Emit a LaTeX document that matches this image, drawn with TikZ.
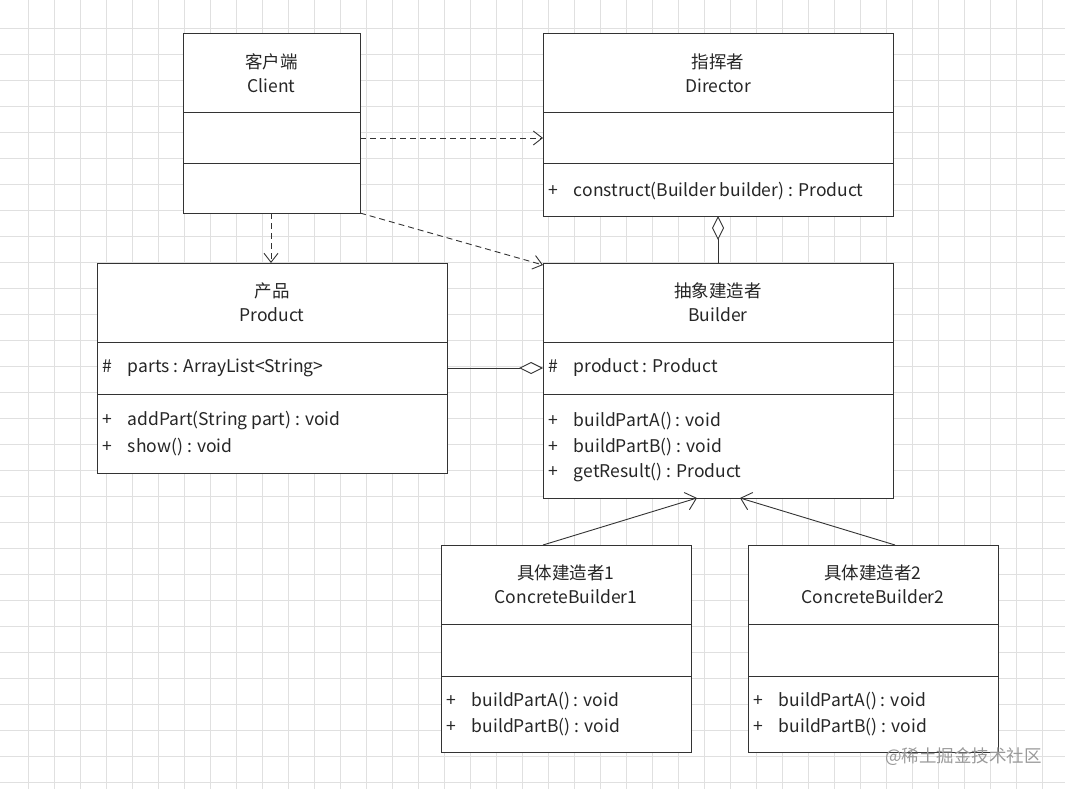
\documentclass[tikz,border=0pt]{standalone}
\usepackage{fontspec}
\setmainfont{Noto Sans CJK SC}
\usetikzlibrary{arrows.meta}
\begin{document}
\begin{tikzpicture}[x=1pt,y=-1pt,
  t/.style={font=\fontsize{17.5}{21}\selectfont,text=black!85,inner sep=0},
  dep/.style={draw=black!80,line width=0.9pt,dash pattern=on 6pt off 4pt,-{Straight Barb[length=9pt,width=14pt,line width=0.9pt]}},
  inh/.style={draw=black!80,line width=0.9pt,-{Straight Barb[length=10pt,width=18pt,line width=0.9pt]}},
  agg/.style={draw=black!80,line width=0.9pt,{Diamond[open,fill=white,length=24pt,width=12pt]}-}]
\useasboundingbox (0,0) rectangle (1065,789);
\fill[white] (0,0) rectangle (1065,789);
\foreach \i in {1,...,41} \draw[black!12,line width=0.8pt] (\i*26+2,0) -- (\i*26+2,789);
\foreach \i in {1,...,30} \draw[black!12,line width=0.8pt] (0,\i*26+2) -- (1065,\i*26+2);
% boxes
\newcommand{\umlbox}[8]{% name x1 y1 x2 y2 d1 d2 title
  \draw[line width=1pt,draw=black!80,fill=white] (#2,#3) rectangle (#4,#5);
  \draw[line width=1pt,draw=black!80] (#2,#6) -- (#4,#6) (#2,#7) -- (#4,#7);
  \path (#2,#3) coordinate (#1nw) (#4,#5) coordinate (#1se);
  \node[t,align=center] (#1) at ({(#2+#4)/2},{(#3+#6)/2}) {#8};}
\umlbox{client}{183}{34}{360}{213}{113}{163}{客户端\\[3pt]Client}
\umlbox{director}{543}{34}{893}{216}{113}{163}{指挥者\\[3pt]Director}
\umlbox{product}{97}{263}{447}{473}{342}{394}{产品\\[3pt]Product}
\umlbox{builder}{543}{263}{893}{498}{342}{394}{抽象建造者\\[3pt]Builder}
\umlbox{cba}{441}{545}{691}{752}{624}{676}{具体建造者1\\[3pt]ConcreteBuilder1}
\umlbox{cbb}{748}{545}{998}{752}{624}{676}{具体建造者2\\[3pt]ConcreteBuilder2}
% members
\node[t,anchor=west] (dm) at (548,191) {+\hspace{16pt}construct(Builder builder) : Product};
\node[t,anchor=west] (pm1) at (102,368) {\#\hspace{16pt}parts : ArrayList<String>};
\node[t,anchor=west] (pm2) at (102,421) {+\hspace{16pt}addPart(String part) : void};
\node[t,anchor=west] (pm3) at (102,447) {+\hspace{16pt}show() : void};
\node[t,anchor=west] (bm1) at (548,368) {\#\hspace{16pt}product : Product};
\node[t,anchor=west] (bm2) at (548,421) {+\hspace{16pt}buildPartA() : void};
\node[t,anchor=west] (bm3) at (548,447) {+\hspace{16pt}buildPartB() : void};
\node[t,anchor=west] (bm4) at (548,473) {+\hspace{16pt}getResult() : Product};
\node[t,anchor=west] (am1) at (446,701) {+\hspace{16pt}buildPartA() : void};
\node[t,anchor=west] (am2) at (446,727) {+\hspace{16pt}buildPartB() : void};
\node[t,anchor=west] (bb1) at (753,701) {+\hspace{16pt}buildPartA() : void};
\node[t,anchor=west] (bb2) at (753,727) {+\hspace{16pt}buildPartB() : void};
% connectors
\coordinate (c1) at (360,138); \coordinate (c2) at (543,138);
\draw[dep] (c1) -- (c2);
\coordinate (c3) at (360,213); \coordinate (c4) at (543,265);
\draw[dep] (c3) -- (c4);
\coordinate (c5) at (271,213); \coordinate (c6) at (271,263);
\draw[dep] (c5) -- (c6);
\coordinate (d1) at (718,216); \coordinate (d2) at (718,263);
\draw[agg] (d1) -- (d2);
\coordinate (p1) at (543,368); \coordinate (p2) at (447,368);
\draw[agg] (p1) -- (p2);
\coordinate (e1) at (543,545); \coordinate (e2) at (697,498);
\draw[inh] (e1) -- (e2);
\coordinate (f1) at (895,545); \coordinate (f2) at (740,498);
\draw[inh] (f1) -- (f2);
\node[t,text=black!40,anchor=east] (wm) at (1042,757) {@稀土掘金技术社区};
\end{tikzpicture}
\end{document}
